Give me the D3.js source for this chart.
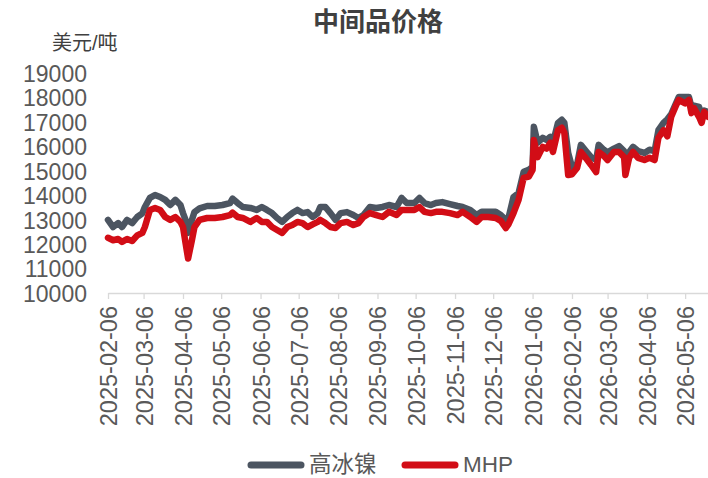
<!DOCTYPE html>
<html>
<head>
<meta charset="utf-8">
<script src="https://cdn.jsdelivr.net/npm/d3@7"></script>
<style>
  body { margin: 0; background: #fff; }
  svg { display: block; font-family: "Liberation Sans", Arial, "Noto Sans CJK SC", sans-serif; }
</style>
</head>
<body>
<svg width="708" height="478"></svg>
<script>
// dates of the sampled points
var dates = [
    "2025-02-06", "2025-02-10", "2025-02-14", "2025-02-17", "2025-02-21", "2025-02-25", "2025-03-01", "2025-03-05",
    "2025-03-07", "2025-03-11", "2025-03-15", "2025-03-19", "2025-03-23", "2025-03-27", "2025-03-31", "2025-04-04",
    "2025-04-06", "2025-04-08", "2025-04-10", "2025-04-13", "2025-04-15", "2025-04-19", "2025-04-25", "2025-05-01",
    "2025-05-07", "2025-05-13", "2025-05-15", "2025-05-19", "2025-05-23", "2025-05-29", "2025-06-03", "2025-06-07",
    "2025-06-11", "2025-06-15", "2025-06-19", "2025-06-23", "2025-06-27", "2025-07-01", "2025-07-05", "2025-07-09",
    "2025-07-13", "2025-07-17", "2025-07-21", "2025-07-23", "2025-07-27", "2025-07-31", "2025-08-04", "2025-08-08",
    "2025-08-13", "2025-08-18", "2025-08-22", "2025-08-26", "2025-08-31", "2025-09-05", "2025-09-10", "2025-09-15",
    "2025-09-21", "2025-09-25", "2025-09-29", "2025-10-05", "2025-10-09", "2025-10-13", "2025-10-18", "2025-10-22",
    "2025-10-27", "2025-11-02", "2025-11-08", "2025-11-12", "2025-11-18", "2025-11-23", "2025-11-27", "2025-12-02",
    "2025-12-08", "2025-12-12", "2025-12-16", "2025-12-18", "2025-12-22", "2025-12-26", "2025-12-30", "2026-01-03",
    "2026-01-06", "2026-01-07", "2026-01-10", "2026-01-14", "2026-01-17", "2026-01-20", "2026-01-22", "2026-01-26",
    "2026-01-29", "2026-01-31", "2026-02-03", "2026-02-06", "2026-02-10", "2026-02-13", "2026-02-17", "2026-02-21",
    "2026-02-25", "2026-02-27", "2026-03-03", "2026-03-06", "2026-03-11", "2026-03-15", "2026-03-19", "2026-03-20",
    "2026-03-23", "2026-03-26", "2026-03-30", "2026-04-04", "2026-04-08", "2026-04-12", "2026-04-15", "2026-04-19",
    "2026-04-22", "2026-04-25", "2026-04-29", "2026-05-01", "2026-05-06", "2026-05-09", "2026-05-11", "2026-05-13",
    "2026-05-17", "2026-05-19", "2026-05-21", "2026-05-24"
];

// 高冰镍, USD/t
var highIceNickel = [
    13030, 12740, 12900, 12740, 13030, 12900, 13150, 13300,
    13560, 13930, 14050, 13970, 13850, 13640, 13850, 13640,
    13310, 13030, 12500, 13030, 13350, 13500, 13600, 13600,
    13640, 13720, 13900, 13720, 13560, 13520, 13440, 13560,
    13440, 13310, 13110, 12950, 13150, 13310, 13440, 13310,
    13350, 13150, 13310, 13560, 13560, 13310, 13030, 13310,
    13350, 13230, 13110, 13230, 13560, 13520, 13560, 13640,
    13560, 13930, 13720, 13720, 13930, 13720, 13640, 13720,
    13760, 13680, 13600, 13560, 13440, 13230, 13360, 13360,
    13360, 13230, 13030, 13100, 13970, 14130, 15000, 15080,
    15200, 16840, 16190, 16390, 16300, 16430, 16190, 17000,
    17130, 17000, 15770, 15200, 15300, 16100, 15850, 15600,
    15480, 16100, 15900, 15800, 15950, 16050, 15850, 15400,
    15800, 16020, 15850, 15770, 15900, 15850, 16700, 17000,
    17150, 17350, 17820, 18060, 18060, 18060, 17650, 17700,
    17650, 17250, 17500, 17450
];

// MHP, USD/t
var mhp = [
    12300, 12200, 12250, 12130, 12250, 12170, 12400, 12500,
    12740, 13440, 13520, 13440, 13150, 13030, 13150, 12950,
    12740, 12090, 11450, 12200, 12740, 13030, 13110, 13110,
    13150, 13230, 13330, 13150, 13110, 12950, 13110, 12950,
    12950, 12740, 12620, 12500, 12740, 12820, 12950, 12900,
    12740, 12850, 12950, 13030, 12900, 12740, 12700, 12900,
    12950, 12820, 12900, 13150, 13310, 13230, 13150, 13360,
    13230, 13440, 13440, 13440, 13560, 13360, 13310, 13360,
    13360, 13310, 13230, 13360, 13150, 12950, 13150, 13150,
    13110, 12990, 12700, 12850, 13310, 13850, 14750, 14800,
    15080, 16300, 15600, 16020, 15950, 16190, 15810, 16700,
    16800, 16600, 14870, 14900, 15160, 15810, 15550, 15280,
    14990, 15810, 15650, 15480, 15810, 15810, 15600, 14870,
    15570, 15810, 15570, 15480, 15570, 15480, 16390, 16700,
    16450, 17240, 17730, 17940, 17800, 17940, 17400, 17600,
    17240, 17000, 17450, 17250
];

var yTicks = [10000, 11000, 12000, 13000, 14000, 15000, 16000, 17000, 18000, 19000];
var xTicks = [
    "2025-02-06", "2025-03-06", "2025-04-06", "2025-05-06", "2025-06-06", "2025-07-06", "2025-08-06", "2025-09-06",
    "2025-10-06", "2025-11-06", "2025-12-06", "2026-01-06", "2026-02-06", "2026-03-06", "2026-04-06", "2026-05-06"
];
var xEnd = "2026-05-24";

var seriesNames = ["高冰镍", "MHP"];
var seriesColors = ["#4c5561", "#d20d16"];

var parseTime = d3.timeParse("%Y-%m-%d");
var fmt = d3.timeFormat("%Y-%m-%d");

var svg = d3.select("svg");
var plot = { left: 108, right: 708, top: 74, bottom: 294 };

var x = d3.scaleTime()
    .domain([parseTime(dates[0]), parseTime(xEnd)])
    .range([plot.left, plot.right]);
var y = d3.scaleLinear()
    .domain([10000, 19000])
    .range([plot.bottom, plot.top]);

var series = [highIceNickel, mhp].map(function(vals, i) {
    return {
        name: seriesNames[i],
        color: seriesColors[i],
        values: vals.map(function(v, j) {
            return { date: parseTime(dates[j]), value: v };
        })
    };
});

// title and unit
svg.append("text")
    .attr("x", 378)
    .attr("y", 31)
    .attr("text-anchor", "middle")
    .style("font-size", "26px")
    .style("font-weight", "bold")
    .style("fill", "#404040")
    .text("中间品价格");
svg.append("text")
    .attr("x", 52)
    .attr("y", 50)
    .style("font-size", "20px")
    .style("fill", "#404040")
    .text("美元/吨");

// y axis, labels only
var yAxis = svg.append("g")
    .attr("transform", "translate(" + (plot.left - 21) + ",0)")
    .call(d3.axisLeft(y).tickValues(yTicks).tickSize(0).tickPadding(0).tickFormat(d3.format("d")));
yAxis.select(".domain").remove();
yAxis.selectAll("text")
    .style("font-size", "23px")
    .style("fill", "#595959")
    .attr("font-family", null);

// x axis
var xAxis = svg.append("g")
    .attr("transform", "translate(0," + (plot.bottom - 1) + ")")
    .call(d3.axisBottom(x)
        .tickValues(xTicks.map(parseTime))
        .tickSize(6)
        .tickSizeOuter(0)
        .tickFormat(fmt));
xAxis.select(".domain").attr("stroke", "#d9d9d9").attr("stroke-width", 1.3);
xAxis.selectAll(".tick line").attr("stroke", "#d9d9d9").attr("stroke-width", 1.3);
xAxis.selectAll("text")
    .attr("transform", "rotate(-90)")
    .attr("x", -13)
    .attr("y", 0)
    .attr("dy", "0.36em")
    .style("text-anchor", "end")
    .style("font-size", "23.5px")
    .style("fill", "#595959")
    .attr("font-family", null);

// lines
var line = d3.line()
    .x(function(d) { return x(d.date); })
    .y(function(d) { return y(d.value); });

svg.selectAll(".series")
    .data(series)
    .enter().append("path")
    .attr("class", "series")
    .attr("d", function(d) { return line(d.values); })
    .style("fill", "none")
    .style("stroke", function(d) { return d.color; })
    .style("stroke-width", 6.5)
    .style("stroke-linejoin", "round")
    .style("stroke-linecap", "round");

// legend
var legend = svg.selectAll(".legend")
    .data(series)
    .enter().append("g")
    .attr("class", "legend")
    .attr("transform", function(d, i) { return "translate(" + (251 + i * 154) + ",465)"; });
legend.append("line")
    .attr("x1", 0)
    .attr("x2", 50)
    .style("stroke", function(d) { return d.color; })
    .style("stroke-width", 7)
    .style("stroke-linecap", "round");
legend.append("text")
    .attr("x", 58)
    .attr("dy", "0.33em")
    .style("font-size", "22.5px")
    .style("fill", "#595959")
    .text(function(d) { return d.name; });
</script>
</body>
</html>
